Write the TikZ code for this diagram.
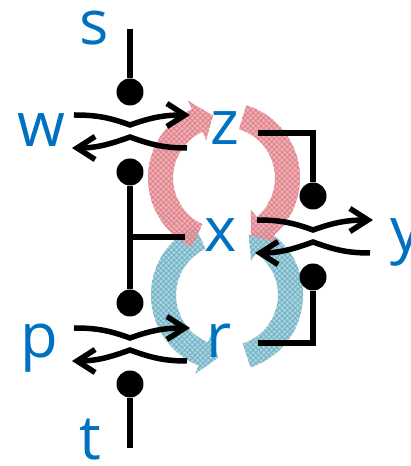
\documentclass[tikz,border=0pt]{standalone}
\usepackage{fontspec}
\setmainfont{Open Sans}
\usetikzlibrary{arrows.meta,patterns}
\definecolor{lblue}{RGB}{0,112,192}
\definecolor{ringred}{RGB}{238,160,166}
\definecolor{ringreddk}{RGB}{200,70,84}
\definecolor{ringblue}{RGB}{150,204,218}
\definecolor{ringbluedk}{RGB}{50,138,166}
\tikzset{
  lbl/.style={text=lblue, font=\fontsize{35}{40}\selectfont, anchor=base, inner sep=0pt},
  wire/.style={line width=0.11cm},
  warr/.style={wire, -{Straight Barb[length=3.6mm, width=4.6mm]}},
  ball/.style={circle, fill=black, minimum size=5.4mm, inner sep=0pt},
  redring/.style={fill=ringred, fill opacity=0.85,
      postaction={pattern=crosshatch, pattern color=ringreddk!70}},
  bluering/.style={fill=ringblue, fill opacity=0.85,
      postaction={pattern=crosshatch, pattern color=ringbluedk!70}},
}
% thick circular arrow: centre, start angle, end angle, tip angle, style
\newcommand{\ringarr}[5]{%
  \begin{scope}[shift={#1}]
    \fill[#5] (#2:\Ro) arc[start angle=#2, end angle=#3, radius=\Ro]
      -- (#3:\Ro+\Hw) -- (#4:\Rm) -- (#3:\Ri-\Hw) -- (#3:\Ri)
      arc[start angle=#3, end angle=#2, radius=\Ri] -- cycle;
  \end{scope}}
% pair of crossing arrows around a centre
\newcommand{\swap}[2]{%
  \begin{scope}[shift={#2}]
    \coordinate (#1a) at (-56,16); \coordinate (#1b) at (0,6); \coordinate (#1c) at (60,16);
    \coordinate (#1d) at (57,-17); \coordinate (#1e) at (0,-6); \coordinate (#1f) at (-58,-17);
  \end{scope}
  \draw[warr] (#1a) to[out=0,in=160] (#1b) to[out=20,in=180] (#1c);
  \draw[warr] (#1d) to[out=180,in=-20] (#1e) to[out=200,in=0] (#1f);}

\begin{document}
\begin{tikzpicture}[x=0.02cm, y=0.02cm]
    \def\Ro{76} \def\Ri{51} \def\Rm{63.5} \def\Hw{9}
    \useasboundingbox (0,0) rectangle (411,466);
    % rotating arrows
    \ringarr{(227,171)}{115}{248}{262}{bluering}
    \ringarr{(227,171)}{-72}{55}{70}{bluering}
    \ringarr{(224,288)}{245}{115}{100}{redring}
    \ringarr{(224,288)}{73}{-50}{-65}{redring}
    % labels
    \node[lbl] (s) at (94,421) {s};
    \node[lbl] (w) at (41,319) {w};
    \node[lbl] (z) at (225,321) {z};
    \node[lbl] (x) at (221,214) {x};
    \node[lbl, anchor=base west] (y) at (390,214) {y};
    \node[lbl] (p) at (39,108) {p};
    \node[lbl] (r) at (219,108) {r};
    \node[lbl] (t) at (90,7) {t};
    % balls
    \node[ball] (bs) at (130,374) {};
    \node[ball] (bw) at (130,294) {};
    \node[ball] (bp) at (130,163) {};
    \node[ball] (bt) at (130,82) {};
    \node[ball] (bz) at (313,270) {};
    \node[ball] (br) at (313,189) {};
    \coordinate (stop) at (130,437);
    \coordinate (tbot) at (130,18);
    \coordinate (tee) at (185,229);
    \coordinate (zend) at (258,333);
    \coordinate (rend) at (258,123);
    % wires
    \draw[wire] (stop) -- (bs);
    \draw[wire] (bw) -- (bp);
    \draw[wire] (bw |- tee) -- (tee);
    \draw[wire] (bt) -- (tbot);
    \draw[wire] (zend) -| (bz);
    \draw[wire] (rend) -| (br);
    % crossings
    \swap{cw}{(130,335)}
    \swap{cy}{(313,230)}
    \swap{cp}{(130,122)}
  \end{tikzpicture}
\end{document}
